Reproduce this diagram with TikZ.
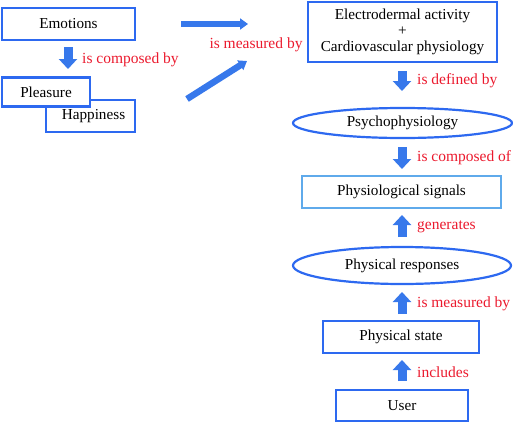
\documentclass[tikz,border=0pt]{standalone}
\usepackage{fontspec}
\setmainfont{Liberation Serif}
\usetikzlibrary{shapes.geometric,arrows.meta}
\definecolor{boxblue}{RGB}{45,105,240}
\definecolor{arrowblue}{RGB}{55,120,235}
\definecolor{lightblue}{RGB}{95,170,235}
\definecolor{labelred}{RGB}{235,25,45}
\tikzset{
  box/.style={draw=boxblue, line width=2.2pt, fill=white, inner sep=0pt, font=\fontsize{15.2}{17}\selectfont},
  ell/.style={box, ellipse},
  lbl/.style={text=labelred, font=\fontsize{15.5}{17}\selectfont, inner sep=0pt},
  bigarrow/.style={draw=arrowblue, line width=9pt, -{Triangle[width=18pt,length=10pt]}},
  thinarrow/.style={draw=arrowblue, line width=6.5pt, -{Triangle[width=11pt,length=8pt]}},
}
\begin{document}
\begin{tikzpicture}[x=1pt,y=-1pt]
\useasboundingbox (0,0) rectangle (513,423);
% left
\node[box, minimum width=133pt, minimum height=32pt] (emo) at (68.5,24) {Emotions};
\node[box, minimum width=89pt, minimum height=32pt] (hap) at (90.5,116) {\hspace*{6pt}Happiness};
\node[box, minimum width=88pt, minimum height=29pt] (plea) at (46,92) {Pleasure};
% right column
\node[box, minimum width=189pt, minimum height=60pt, align=center] (eda) at (402.5,32) {Electrodermal activity\\[-1pt]+\\[-1pt]Cardiovascular physiology};
\node[ell, minimum width=219pt, minimum height=30pt] (psy) at (402.5,123) {Psychophysiology};
\node[box, draw=lightblue, minimum width=199pt, minimum height=32pt] (sig) at (401.5,192) {Physiological signals};
\node[ell, minimum width=218pt, minimum height=37pt] (resp) at (402,265.5) {Physical responses};
\node[box, minimum width=156pt, minimum height=32pt] (state) at (401,337) {Physical state};
\node[box, minimum width=132pt, minimum height=31pt] (user) at (402,405.5) {User};
% arrow end points
\coordinate (a1s) at (68,47);   \coordinate (a1e) at (68,69);
\coordinate (h1s) at (181,24);  \coordinate (h1e) at (248,24);
\coordinate (d1s) at (187,99);  \coordinate (d1e) at (247,61);
\coordinate (r1s) at (402,71);  \coordinate (r1e) at (402,91);
\coordinate (r2s) at (402,147); \coordinate (r2e) at (402,169);
\coordinate (r3s) at (402,237); \coordinate (r3e) at (402,215);
\coordinate (r4s) at (402,314); \coordinate (r4e) at (402,292);
\coordinate (r5s) at (402,381); \coordinate (r5e) at (402,360);
\draw[bigarrow] (a1s) -- (a1e);
\draw[thinarrow] (h1s) -- (h1e);
\draw[thinarrow] (d1s) -- (d1e);
\draw[bigarrow] (r1s) -- (r1e);
\draw[bigarrow] (r2s) -- (r2e);
\draw[bigarrow] (r3s) -- (r3e);
\draw[bigarrow] (r4s) -- (r4e);
\draw[bigarrow] (r5s) -- (r5e);
% labels
\node[lbl, anchor=west] (l1) at (82,60) {is composed by};
\node[lbl] (l2) at (256,45) {is measured by};
\node[lbl, anchor=west] (l3) at (417,81) {is defined by};
\node[lbl, anchor=west] (l4) at (417,158) {is composed of};
\node[lbl, anchor=west] (l5) at (417,227) {generates};
\node[lbl, anchor=west] (l6) at (417,304) {is measured by};
\node[lbl, anchor=west] (l7) at (417,372) {includes};
\end{tikzpicture}
\end{document}
